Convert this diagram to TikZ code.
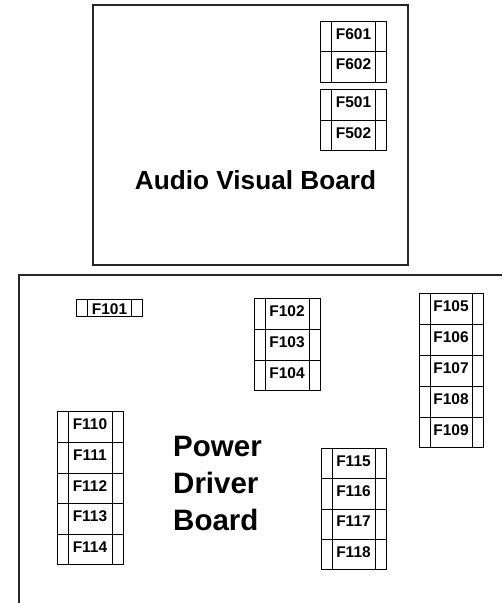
\documentclass[tikz,border=0pt]{standalone}
\usepackage{fontspec}
\setmainfont{Liberation Sans}
\begin{document}
\begin{tikzpicture}[x=1pt,y=-1pt,
  board/.style={draw=black!85, line width=1.1pt},
  fuse/.style={draw, line width=0.8pt, minimum width=66pt, minimum height=30.6pt,
    inner sep=0pt, text depth=5pt, font=\bfseries\fontsize{15.5}{15.5}\selectfont,
    path picture={
      \draw[line width=0.8pt] ([xshift=11pt]path picture bounding box.north west) -- ([xshift=11pt]path picture bounding box.south west);
      \draw[line width=0.8pt] ([xshift=-11pt]path picture bounding box.north east) -- ([xshift=-11pt]path picture bounding box.south east);
    }},
  bigtext/.style={font=\bfseries\fontsize{26.2}{30}\selectfont, inner sep=0pt},
  pdtext/.style={font=\bfseries\fontsize{29.5}{37}\selectfont, inner sep=0pt, align=left}
]
\useasboundingbox (0,0) rectangle (503,603);

% Audio Visual Board
\draw[board] (93,5) rectangle (408,265);
\node[bigtext, anchor=base] (avb) at (255.5,189) {Audio Visual Board};

% Power Driver Board
\coordinate (pdtr) at (502,275);
\coordinate (pdtl) at (19,275);
\coordinate (pdbl) at (19,603);
\draw[board] (pdtr) -- (pdtl) -- (pdbl);
\node[pdtext, anchor=north west] (pdb) at (173,435.5) {Power\\Driver\\Board};

% AV fuses
\node[fuse] (F601) at (353.5,36.5) {F601};
\node[fuse] (F602) at (353.5,67) {F602};
\node[fuse] (F501) at (353.5,105) {F501};
\node[fuse] (F502) at (353.5,135.5) {F502};

% Power driver fuses
\node[fuse, minimum height=17pt, text depth=0pt, text height=11pt] (F101) at (109.5,307.5) {\raisebox{-1.5pt}{F101}};

\node[fuse] (F102) at (287,314) {F102};
\node[fuse] (F103) at (287,344.7) {F103};
\node[fuse] (F104) at (287,375.4) {F104};

\node[fuse, minimum width=64pt] (F105) at (451,309) {F105};
\node[fuse, minimum width=64pt] (F106) at (451,340) {F106};
\node[fuse, minimum width=64pt] (F107) at (451,371) {F107};
\node[fuse, minimum width=64pt] (F108) at (451,402) {F108};
\node[fuse, minimum width=64pt] (F109) at (451,432.5) {F109};

\node[fuse] (F110) at (90,427) {F110};
\node[fuse] (F111) at (90,457.6) {F111};
\node[fuse] (F112) at (90,488.2) {F112};
\node[fuse] (F113) at (90,518.8) {F113};
\node[fuse] (F114) at (90,549.4) {F114};

\node[fuse, minimum width=65pt, minimum height=30.3pt] (F115) at (353.5,463.5) {F115};
\node[fuse, minimum width=65pt, minimum height=30.3pt] (F116) at (353.5,493.8) {F116};
\node[fuse, minimum width=65pt, minimum height=30.3pt] (F117) at (353.5,524.1) {F117};
\node[fuse, minimum width=65pt, minimum height=30.3pt] (F118) at (353.5,554.4) {F118};
\end{tikzpicture}
\end{document}
